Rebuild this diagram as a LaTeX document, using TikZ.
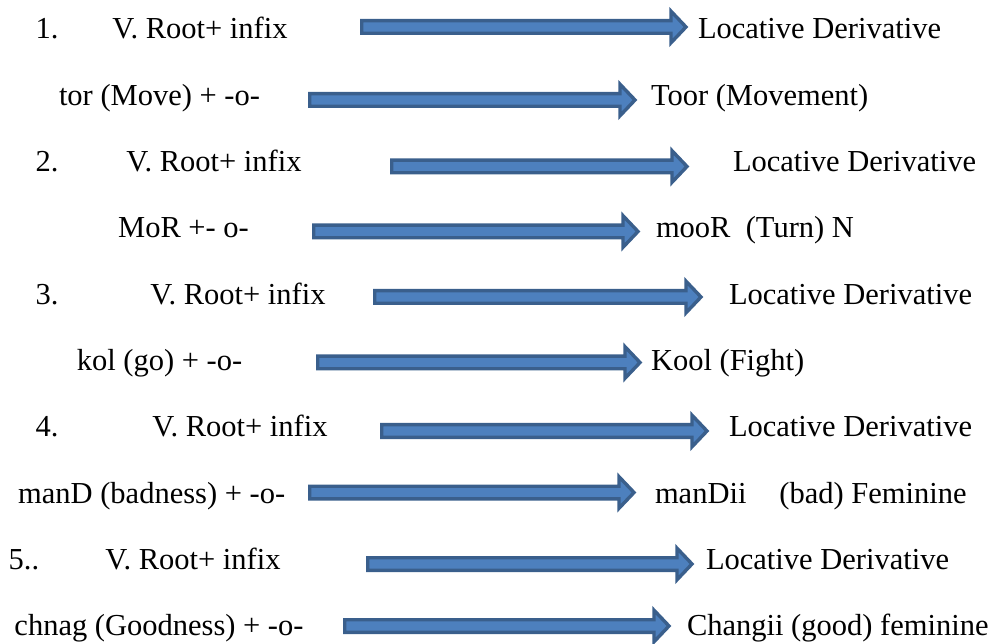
\documentclass[tikz,border=0pt]{standalone}
\usepackage{fontspec}
\setmainfont{Liberation Serif}
\usetikzlibrary{calc}

\definecolor{arrowline}{HTML}{3A5F8C}
\definecolor{arrowfill}{HTML}{4D80BE}

\tikzset{
  lbl/.style={inner sep=0pt, outer sep=0pt, font=\fontsize{30.5}{36}\selectfont},
  fatarrowstyle/.style={draw=arrowline, fill=arrowfill, line width=3.4pt, line join=miter}
}

% Block arrow from coordinate #1 to coordinate #2 (tip at #2)
\newcommand\fatarrow[2]{%
  \path[fatarrowstyle] let \p1=(#1), \p2=(#2) in
    (\x1+1.7pt,\y1+6.3pt) -- (\x2-18pt,\y1+6.3pt) -- (\x2-18pt,\y1+15.8pt)
    -- (\x2-3pt,\y1) -- (\x2-18pt,\y1-15.8pt) -- (\x2-18pt,\y1-6.3pt)
    -- (\x1+1.7pt,\y1-6.3pt) -- cycle;}

\begin{document}
\begin{tikzpicture}[x=1pt, y=-1pt]
  \useasboundingbox (0,0) rectangle (994,644);

  % Row 1
  \node[lbl, anchor=base] (n1) at (47,39) {1.};
  \node[lbl, anchor=base] (l1) at (200,39) {V. Root+ infix};
  \node[lbl, anchor=base west] (r1) at (698,39) {Locative Derivative};
  \coordinate (s1) at (360,27); \coordinate (e1) at (689,27);
  \fatarrow{s1}{e1}

  % Row 2
  \node[lbl, anchor=base] (l2) at (159.5,105.3) {tor (Move) + -o-};
  \node[lbl, anchor=base west] (r2) at (651,105.3) {Toor (Movement)};
  \coordinate (s2) at (308,100); \coordinate (e2) at (638,100);
  \fatarrow{s2}{e2}

  % Row 3
  \node[lbl, anchor=base] (n2) at (47,171.6) {2.};
  \node[lbl, anchor=base] (l3) at (214,171.6) {V. Root+ infix};
  \node[lbl, anchor=base west] (r3) at (733,171.6) {Locative Derivative};
  \coordinate (s3) at (390,166.5); \coordinate (e3) at (690,166.5);
  \fatarrow{s3}{e3}

  % Row 4
  \node[lbl, anchor=base] (l4) at (183.5,238) {MoR +- o-};
  \node[lbl, anchor=base west] (r4) at (656,238) {mooR~~(Turn) N};
  \coordinate (s4) at (312,231.5); \coordinate (e4) at (641,231.5);
  \fatarrow{s4}{e4}

  % Row 5
  \node[lbl, anchor=base] (n3) at (47,304.2) {3.};
  \node[lbl, anchor=base] (l5) at (238,304.2) {V. Root+ infix};
  \node[lbl, anchor=base west] (r5) at (729,304.2) {Locative Derivative};
  \coordinate (s5) at (373,297); \coordinate (e5) at (704,297);
  \fatarrow{s5}{e5}

  % Row 6
  \node[lbl, anchor=base] (l6) at (159.5,370.5) {kol (go) + -o-};
  \node[lbl, anchor=base west] (r6) at (651,370.5) {Kool (Fight)};
  \coordinate (s6) at (316,362.5); \coordinate (e6) at (643,362.5);
  \fatarrow{s6}{e6}

  % Row 7
  \node[lbl, anchor=base] (n4) at (47,436.8) {4.};
  \node[lbl, anchor=base] (l7) at (240,436.8) {V. Root+ infix};
  \node[lbl, anchor=base west] (r7) at (729,436.8) {Locative Derivative};
  \coordinate (s7) at (380,431); \coordinate (e7) at (710,431);
  \fatarrow{s7}{e7}

  % Row 8
  \node[lbl, anchor=base] (l8) at (151.7,503) {manD (badness) + -o-};
  \node[lbl, anchor=base west] (r8) at (655,503) {manDii\hspace{33pt}(bad) Feminine};
  \coordinate (s8) at (308,492.5); \coordinate (e8) at (637,492.5);
  \fatarrow{s8}{e8}

  % Row 9
  \node[lbl, anchor=base] (n5) at (24,569.5) {5..};
  \node[lbl, anchor=base] (l9) at (193,569.5) {V. Root+ infix};
  \node[lbl, anchor=base west] (r9) at (706,569.5) {Locative Derivative};
  \coordinate (s9) at (366,564); \coordinate (e9) at (695,564);
  \fatarrow{s9}{e9}

  % Row 10
  \node[lbl, anchor=base] (l10) at (159,635.7) {chnag (Goodness) + -o-};
  \node[lbl, anchor=base west] (r10) at (687,635.7) {Changii (good) feminine};
  \coordinate (s10) at (343,626); \coordinate (e10) at (672,626);
  \fatarrow{s10}{e10}
\end{tikzpicture}
\end{document}
